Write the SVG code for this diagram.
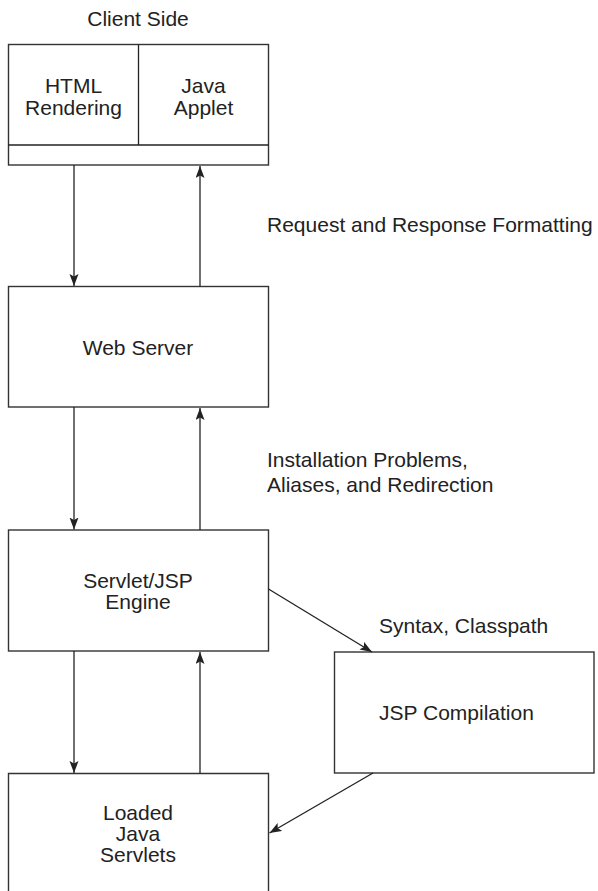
<svg xmlns="http://www.w3.org/2000/svg" width="598" height="891" viewBox="0 0 598 891">
<defs>
<style>
.box{fill:#fff;stroke:#333;stroke-width:1.4}
.ln{fill:none;stroke:#222;stroke-width:1.3}
.t{font-family:"Liberation Sans",Arial,sans-serif;font-size:21px;fill:#222}
.c{text-anchor:middle}
</style>
<marker id="ah" markerUnits="userSpaceOnUse" markerWidth="13" markerHeight="10" refX="12" refY="4.5" orient="auto">
<path d="M0,0 L12,4.5 L0,9 L2.5,4.5 z" fill="#222"/>
</marker>
</defs>
<rect width="598" height="891" fill="#fff"/>
<text class="t c" x="138" y="26">Client Side</text>
<g id="client">
<rect class="box" x="8.5" y="44.5" width="260" height="120.5"/>
<line class="ln" x1="8.5" y1="145" x2="268.5" y2="145"/>
<line class="ln" x1="138.5" y1="44.5" x2="138.5" y2="145"/>
<text class="t c" x="73.5" y="93">HTML</text>
<text class="t c" x="73.5" y="115">Rendering</text>
<text class="t c" x="203.5" y="93">Java</text>
<text class="t c" x="203.5" y="115">Applet</text>
</g>
<g id="webserver">
<rect class="box" x="8.5" y="286.5" width="260" height="120.5"/>
<text class="t c" x="138" y="355">Web Server</text>
</g>
<g id="engine">
<rect class="box" x="8.5" y="530" width="260" height="121"/>
<text class="t c" x="138" y="588">Servlet/JSP</text>
<text class="t c" x="138" y="609">Engine</text>
</g>
<g id="jspcomp">
<rect class="box" x="334.5" y="652" width="259.5" height="121"/>
<text class="t" x="379" y="720">JSP Compilation</text>
</g>
<g id="loaded">
<path class="box" d="M8.5,895 V773.5 H268.5 V895"/>
<text class="t c" x="138" y="820">Loaded</text>
<text class="t c" x="138" y="841">Java</text>
<text class="t c" x="138" y="862">Servlets</text>
</g>
<g id="connectors">
<line class="ln" x1="74" y1="165" x2="74" y2="286" marker-end="url(#ah)"/>
<line class="ln" x1="200" y1="286.5" x2="200" y2="166" marker-end="url(#ah)"/>
<line class="ln" x1="74" y1="407" x2="74" y2="529.5" marker-end="url(#ah)"/>
<line class="ln" x1="200" y1="530" x2="200" y2="408" marker-end="url(#ah)"/>
<line class="ln" x1="74" y1="651" x2="74" y2="773" marker-end="url(#ah)"/>
<line class="ln" x1="200" y1="773.5" x2="200" y2="652" marker-end="url(#ah)"/>
<line class="ln" x1="268.5" y1="589" x2="372" y2="652" marker-end="url(#ah)"/>
<line class="ln" x1="373" y1="773" x2="269.5" y2="833" marker-end="url(#ah)"/>
</g>
<g id="labels">
<text class="t" x="267" y="232">Request and Response Formatting</text>
<text class="t" x="267" y="467">Installation Problems,</text>
<text class="t" x="267" y="492">Aliases, and Redirection</text>
<text class="t" x="379" y="633">Syntax, Classpath</text>
</g>
</svg>
